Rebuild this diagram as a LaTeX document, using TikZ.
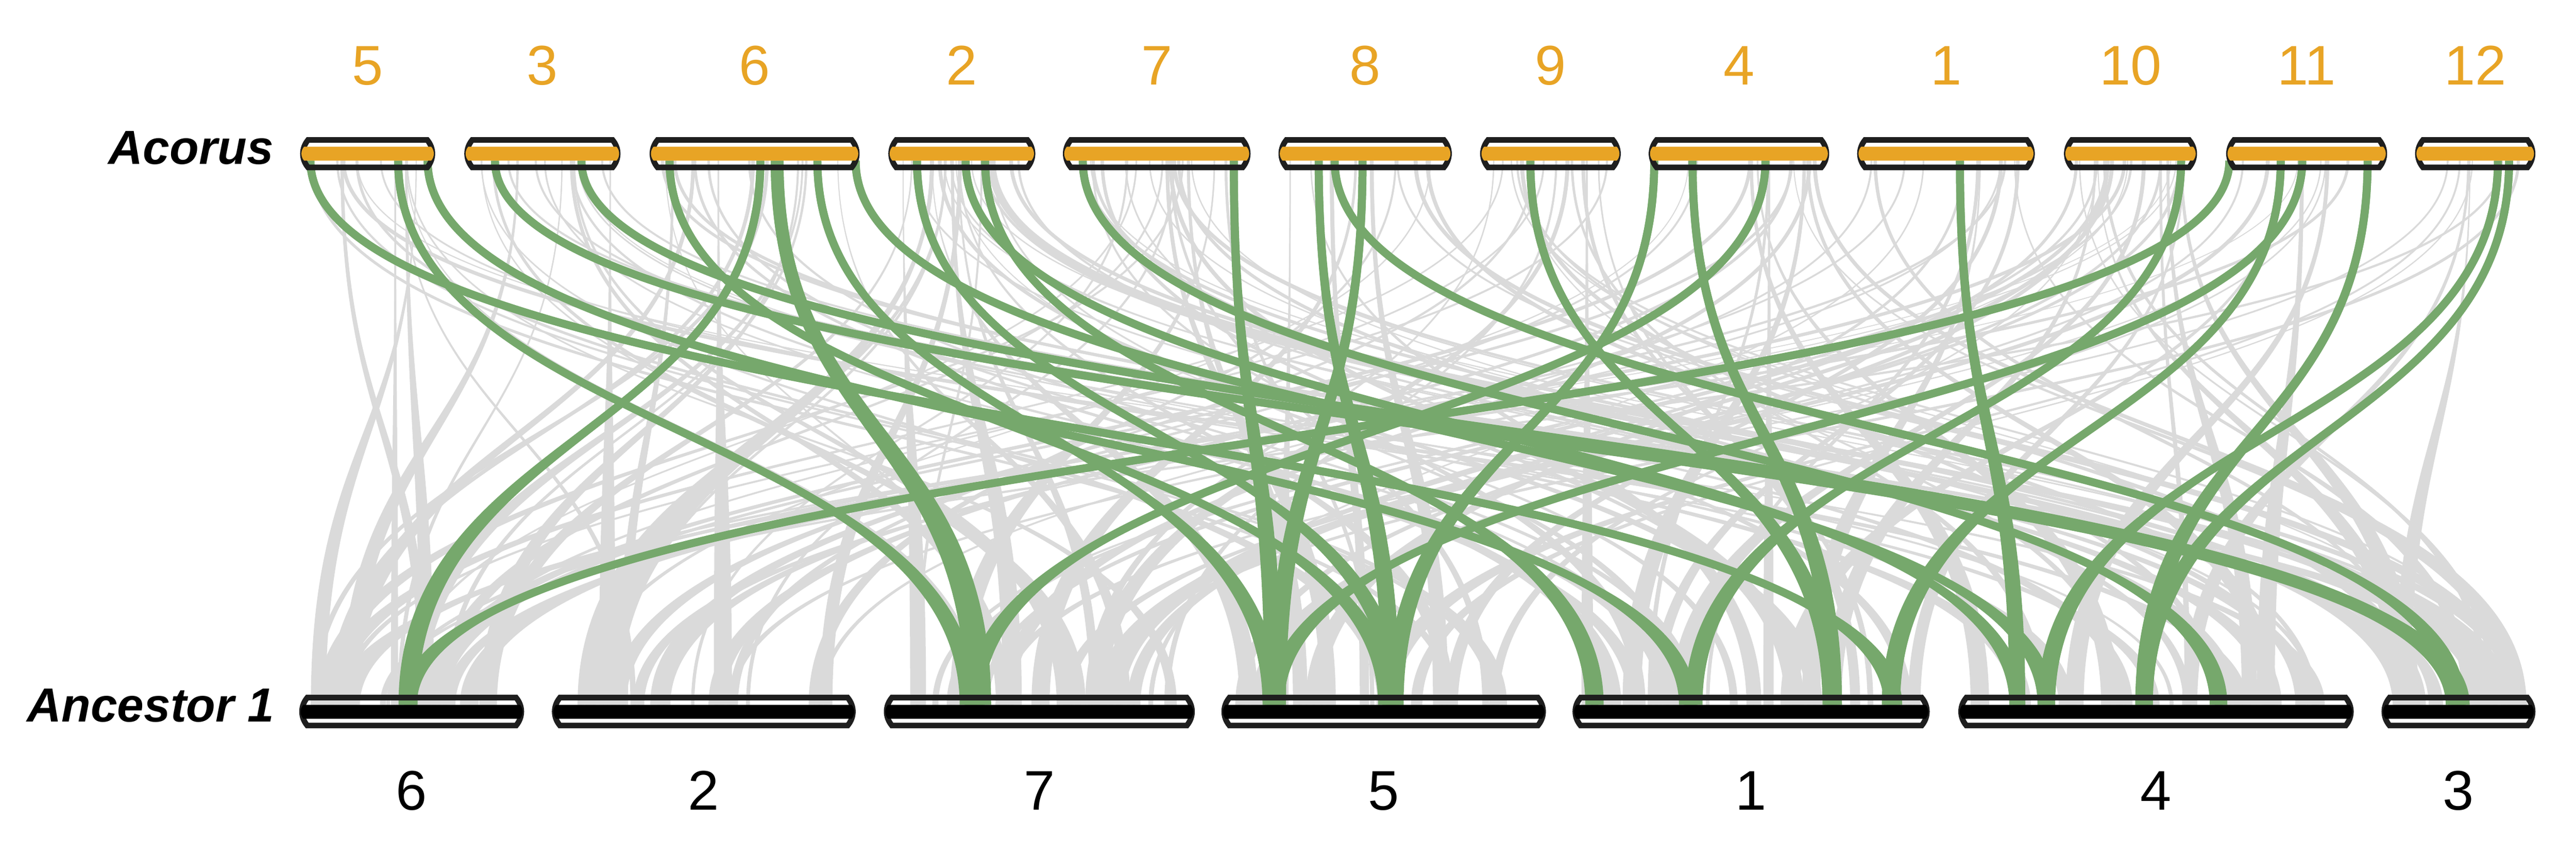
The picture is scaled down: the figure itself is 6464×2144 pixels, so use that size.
\documentclass[tikz,border=0pt]{standalone}
\usepackage{fontspec}
\setmainfont{Liberation Sans}

\definecolor{acorus}{HTML}{E8A425}
\definecolor{syngreen}{HTML}{76A86C}
\definecolor{syngray}{HTML}{DADADA}
\definecolor{chromline}{HTML}{1E1E1E}

% ribbon between the two rows: top x, top width, bottom x, bottom width, colour
\newcommand{\synlink}[5]{%
	\fill[#5] ({#1-#2/2},403) .. controls ({#1-#2/2},1085) and ({#3-#4/2},1085) .. ({#3-#4/2},1768)
		-- ({#3+#4/2},1768) .. controls ({#3+#4/2},1085) and ({#1+#2/2},1085) .. ({#1+#2/2},403) -- cycle;
	\draw[#5, line width=#2*0.1pt] (#1,403) .. controls (#1,1085) and (#3,1085) .. (#3,1768);}

\tikzset{
	chrom/.style={draw=chromline, line width=1.4pt},
	toplab/.style={text=acorus, font=\fontsize{14}{16}\selectfont, anchor=base, inner sep=0pt},
	botlab/.style={text=black, font=\fontsize{14}{16}\selectfont, anchor=base, inner sep=0pt},
	species/.style={font=\fontsize{12}{14}\selectfont\bfseries\itshape, anchor=base east, inner sep=0pt}
}

\begin{document}
\begin{tikzpicture}[x=0.1pt,y=-0.1pt]
	\useasboundingbox (0,0) rectangle (6464,2144);
	% grey links
	\pgfmathsetseed{41}
	\foreach \k in {1,...,180}{
		\pgfmathrandominteger{\i}{0}{11}
		\pgfmathrandominteger{\j}{0}{6}
		\pgfmathsetmacro\xt{{753,1165,1630,2229,2667,3208,3714,4137,4660,5179,5586,6060}[\i]+25+rnd*({339,392,527,369,471,435,353,453,446,334,404,302}[\i]-50)}
		\pgfmathsetmacro\xb{{751,1385,2218,3065,3946,4914,5976}[\j]+35+rnd*({564,762,780,814,896,992,386}[\j]-70)}
		\pgfmathsetmacro\wt{2+rnd*8}
		\pgfmathsetmacro\wb{8+rnd*40}
		\synlink{\xt}{\wt}{\xb}{\wb}{syngray}
	}
	\synlink{992}{4}{990}{18}{syngray}
	% green links
	\foreach \xt/\wt/\xb/\wb in {779/20/4750/46, 999/20/2430/44, 1073/20/4235/44, 1242/20/6160/46,
		1459/20/6175/44, 1680/20/3480/44, 1908/20/1024/48, 1950/32/2455/64, 2051/20/3190/44,
		2147/20/5135/44, 2301/20/3500/44, 2423/20/5062/40, 2472/20/4001/46, 2717/20/5567/44,
		3096/20/3195/44, 3309/20/3490/44, 3349/20/6165/44, 3419/20/3205/44, 3840/20/4595/44,
		4151/20/3500/44, 4247/20/4600/44, 4430/20/2445/44, 4918/20/5062/40, 5473/20/4250/44,
		5594/20/1024/44, 5723/20/4745/46, 5777/20/3200/44, 5941/20/5380/44, 6268/20/5135/44,
		6296/20/5380/44}{
		\synlink{\xt}{\wt}{\xb}{\wb}{syngreen}
	}
	% Acorus chromosomes
	\foreach \n/\a/\b in {5/753/1092, 3/1165/1557, 6/1630/2157, 2/2229/2598, 7/2667/3138, 8/3208/3643,
		9/3714/4067, 4/4137/4590, 1/4660/5106, 10/5179/5513, 11/5586/5990, 12/6060/6362}{
		\draw[chrom] ({\a+20},351) -- ({\b-20},351) to[bend left=40] ({\b-20},420) -- ({\a+20},420) to[bend left=40] ({\a+20},351) -- cycle;
		\fill[acorus] ({\a+10},368) -- ({\b-10},368) to[bend left=40] ({\b-10},403) -- ({\a+10},403) to[bend left=40] ({\a+10},368) -- cycle;
		\node[toplab] (top\n) at ({(\a+\b)/2},213) {\n};
	}
	% ancestral chromosomes
	\foreach \n/\a/\b in {6/751/1315, 2/1385/2147, 7/2218/2998, 5/3065/3879, 1/3946/4842, 4/4914/5906, 3/5976/6362}{
		\draw[chrom] ({\a+20},1750) -- ({\b-20},1750) to[bend left=40] ({\b-20},1820) -- ({\a+20},1820) to[bend left=40] ({\a+20},1750) -- cycle;
		\fill[black] ({\a+10},1768) -- ({\b-10},1768) to[bend left=40] ({\b-10},1803) -- ({\a+10},1803) to[bend left=40] ({\a+10},1768) -- cycle;
		\node[botlab] (bot\n) at ({(\a+\b)/2},2032) {\n};
	}
	\node[species] (acorusname) at (688,412) {Acorus};
	\node[species] (ancestorname) at (690,1810) {Ancestor 1};
\end{tikzpicture}
\end{document}
